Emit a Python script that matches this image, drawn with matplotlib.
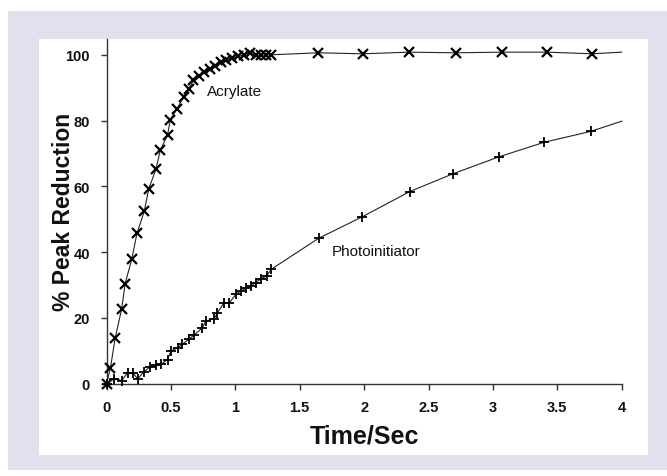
import matplotlib
matplotlib.use("Agg")
import matplotlib.pyplot as plt
from matplotlib.patches import Rectangle
from matplotlib import font_manager

# ---- data ----
acr_t = [0.0, 0.03, 0.067, 0.118, 0.145, 0.196, 0.237, 0.294, 0.327, 0.384, 0.418,
         0.474, 0.495, 0.546, 0.598, 0.637, 0.675, 0.719, 0.758, 0.802, 0.843, 0.887,
         0.930, 0.977, 1.023, 1.068, 1.112, 1.158, 1.197, 1.236, 1.28,
         1.645, 1.99, 2.35, 2.71, 3.07, 3.42, 3.77, 4.0]
acr_y = [0.0, 4.6, 13.7, 22.8, 30.4, 37.8, 45.7, 52.5, 59.1, 65.2, 71.0,
         75.6, 80.2, 83.5, 87.1, 89.6, 92.2, 93.5, 94.7, 95.7, 96.7, 97.7,
         98.5, 99.1, 99.5, 100.0, 100.6, 99.8, 99.8, 100.0, 100.0,
         100.6, 100.3, 100.8, 100.6, 100.8, 100.8, 100.3, 100.8]

pho_t = [0.0, 0.062, 0.118, 0.165, 0.204, 0.242, 0.289, 0.34, 0.384, 0.422, 0.474,
         0.5, 0.552, 0.59, 0.642, 0.68, 0.745, 0.77, 0.836, 0.861, 0.913, 0.952,
         1.003, 1.041, 1.08, 1.124, 1.158, 1.201, 1.243, 1.281,
         1.648, 1.98, 2.355, 2.69, 3.05, 3.40, 3.76, 4.0]
pho_y = [0.0, 1.5, 0.9, 3.3, 3.3, 1.4, 3.5, 5.1, 5.5, 5.8, 7.3,
         9.9, 10.9, 11.9, 13.6, 14.7, 17.0, 19.0, 19.7, 21.5, 24.6, 24.4,
         27.1, 28.1, 28.9, 29.7, 30.7, 31.9, 32.7, 34.8,
         44.2, 50.6, 58.4, 63.8, 69.0, 73.4, 76.7, 79.8]

x_ticks = [0, 0.5, 1, 1.5, 2, 2.5, 3, 3.5, 4]
x_tick_labels = ["0", "0.5", "1", "1.5", "2", "2.5", "3", "3.5", "4"]
y_ticks = [0, 20, 40, 60, 80, 100]

plt.rcParams['font.family'] = ['Liberation Sans', 'DejaVu Sans']

W, H = 667, 477
fig = plt.figure(figsize=(W / 100, H / 100), dpi=100)
fig.patch.set_facecolor('white')

# background axes holding lavender frame and white inner panel
bg = fig.add_axes([0, 0, 1, 1])
bg.set_xlim(0, W)
bg.set_ylim(H, 0)
bg.axis('off')
bg.set_zorder(0)
bg.add_patch(Rectangle((8, 12), 667 - 8, 471 - 12, facecolor='#e1e1ed', edgecolor='none'))
bg.add_patch(Rectangle((39, 40), 648 - 39, 456 - 40, facecolor='white', edgecolor='none'))

left = 106.5 / W
right = 621.7 / W
bottom = 1 - 384.5 / H
top = 1 - 40 / H
ax = fig.add_axes([left, bottom, right - left, top - bottom])
ax.set_zorder(1)
ax.set_facecolor('none')

n_a = len(acr_t)
n_p = len(pho_t)
ax.plot(acr_t, acr_y, color='#222222', lw=0.8, marker='x', ms=6.5, mew=1.6,
        mec='black', markevery=list(range(n_a - 1)), clip_on=False, zorder=3)
ax.plot(pho_t, pho_y, color='#222222', lw=0.8, marker='+', ms=7, mew=1.3,
        mec='black', markevery=list(range(n_p - 1)), clip_on=False, zorder=3)

ax.text(0.78, 89, "Acrylate", fontsize=11, ha='left', va='center', color='#111111')
ax.text(1.75, 40.4, "Photoinitiator", fontsize=11, ha='left', va='center', color='#111111')

ax.set_xlim(0, 4)
ax.set_ylim(0, 104.8)
ax.set_xticks(x_ticks)
ax.set_xticklabels(x_tick_labels)
ax.set_yticks(y_ticks)

for s in ['top', 'right']:
    ax.spines[s].set_visible(False)
for s in ['left', 'bottom']:
    ax.spines[s].set_color('#333333')
    ax.spines[s].set_linewidth(1.0)

ax.tick_params(axis='both', direction='out', length=4, width=1, color='#333333',
               labelsize=10.5, pad=8)
for lab in ax.get_xticklabels() + ax.get_yticklabels():
    lab.set_fontweight('bold')
    lab.set_color('#111111')

ax.set_xlabel("Time/Sec", fontsize=18, fontweight='bold', labelpad=7, color='#111111')

# y label: condensed look if a narrow face is available
names = {f.name for f in font_manager.fontManager.ttflist}
yfam = ['Liberation Sans Narrow'] if 'Liberation Sans Narrow' in names else ['Liberation Sans']
ylab = ax.set_ylabel("% Peak Reduction", fontsize=17, fontweight='bold', color='#111111',
                     family=yfam + ['DejaVu Sans'], va='center')
ax.yaxis.set_label_coords((63 - 106.5) / (621.7 - 106.5), 0.5)

# fit the label length close to the reference
renderer = fig.canvas.get_renderer()
for _ in range(3):
    h = ylab.get_window_extent(renderer).height
    ylab.set_fontsize(ylab.get_fontsize() * 198.0 / h)

fig.savefig("out.png", dpi=100)
